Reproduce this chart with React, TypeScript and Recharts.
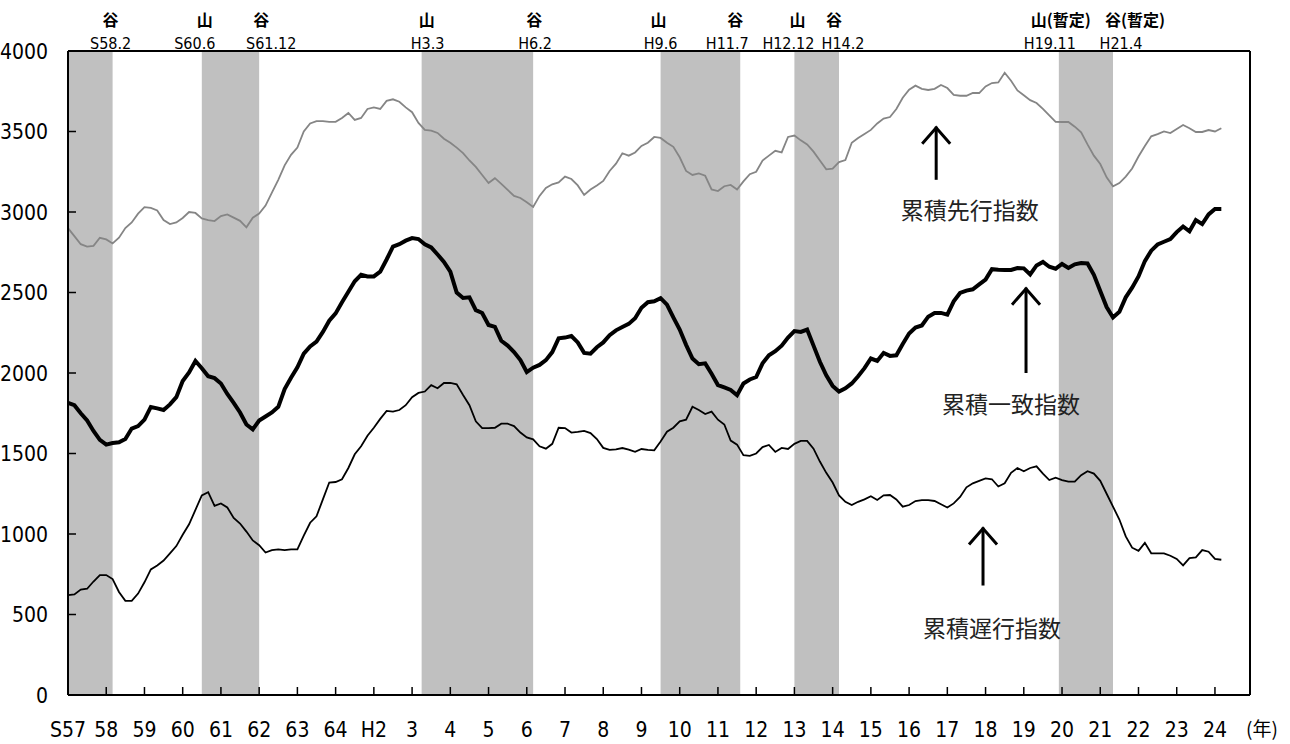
import React from "react";
import { ComposedChart, Line, XAxis, YAxis, ReferenceArea, ReferenceLine, ReferenceDot } from "recharts";

// months counted from S57.1 (Jan 1982), sampled every 2 months
const months = Array.from({ length: 182 }, (_, i) => i * 2);

const yearLabels = [
  "S57", "58", "59", "60", "61", "62", "63", "64", "H2", "3", "4", "5", "6", "7", "8", "9",
  "10", "11", "12", "13", "14", "15", "16", "17", "18", "19", "20", "21", "22", "23", "24",
];
const yearTicks = yearLabels.map((_, i) => i * 12);
const valueTicks = [0, 500, 1000, 1500, 2000, 2500, 3000, 3500, 4000];

// 累積先行指数
const leading = [
  2900, 2850, 2800, 2785, 2790, 2840,
  2830, 2805, 2840, 2900, 2935, 2990,
  3030, 3025, 3010, 2950, 2925, 2935,
  2963, 3000, 2994, 2960, 2950, 2944,
  2975, 2985, 2965, 2945, 2905, 2965,
  2990, 3040, 3120, 3200, 3290, 3355,
  3400, 3500, 3550, 3565, 3565, 3560,
  3560, 3584, 3615, 3572, 3584, 3640,
  3650, 3640, 3690, 3700, 3685, 3650,
  3620, 3553, 3510, 3505, 3491, 3455,
  3430, 3400, 3366, 3320, 3280, 3230,
  3180, 3210, 3175, 3137, 3100, 3087,
  3060, 3031, 3100, 3150, 3172, 3184,
  3220, 3205, 3165, 3106, 3140, 3165,
  3193, 3255, 3300, 3365, 3350, 3370,
  3410, 3430, 3466, 3460, 3430, 3405,
  3340, 3255, 3230, 3240, 3225, 3140,
  3130, 3160, 3168, 3140, 3190, 3235,
  3250, 3320, 3350, 3380, 3370, 3466,
  3475, 3445, 3420, 3375, 3320, 3265,
  3270, 3310, 3323, 3430, 3460, 3485,
  3510, 3550, 3580, 3590, 3640, 3710,
  3760, 3785, 3765, 3758, 3765, 3789,
  3770, 3727, 3722, 3722, 3739, 3739,
  3780, 3801, 3805, 3865, 3815, 3755,
  3725, 3695, 3677, 3640, 3600, 3560,
  3559, 3559, 3530, 3495, 3420, 3350,
  3298, 3215, 3160, 3180, 3220, 3270,
  3345, 3410, 3470, 3484, 3500, 3490,
  3515, 3540, 3520, 3497, 3497, 3509,
  3500, 3520,
];

// 累積一致指数
const coincident = [
  1815, 1800, 1750, 1705, 1640, 1585,
  1555, 1565, 1570, 1590, 1655, 1670,
  1710, 1789, 1780, 1770, 1805, 1850,
  1950, 2003, 2075, 2030, 1980, 1968,
  1935, 1870, 1815, 1755, 1680, 1650,
  1705, 1730, 1755, 1790, 1900, 1970,
  2035, 2120, 2165, 2195, 2255, 2325,
  2370, 2440, 2505, 2570, 2610, 2600,
  2600, 2630, 2705, 2785, 2800, 2822,
  2838, 2832, 2800, 2780, 2736, 2690,
  2630, 2500, 2466, 2470, 2390, 2373,
  2298, 2286, 2200, 2170, 2130, 2080,
  2006, 2033, 2050, 2080, 2130, 2215,
  2220, 2230, 2190, 2125, 2120, 2160,
  2190, 2235, 2265, 2286, 2305, 2340,
  2405, 2440, 2445, 2465, 2425, 2345,
  2270, 2175, 2090, 2055, 2060, 1995,
  1925, 1910, 1895, 1862, 1935, 1960,
  1975, 2060, 2110, 2135, 2170, 2220,
  2260, 2255, 2270, 2170, 2070, 1985,
  1920, 1885, 1905, 1935, 1980, 2030,
  2090, 2075, 2124, 2106, 2110, 2180,
  2245, 2282, 2295, 2350, 2373, 2373,
  2362, 2445, 2497, 2512, 2520, 2550,
  2580, 2645, 2642, 2640, 2640, 2652,
  2650, 2612, 2668, 2690, 2660, 2648,
  2677, 2652, 2675, 2683, 2680, 2610,
  2510, 2410, 2345, 2380, 2470, 2530,
  2600, 2695, 2760, 2798, 2815, 2832,
  2875, 2910, 2880, 2950, 2925, 2985,
  3019, 3019,
];

// 累積遅行指数
const lagging = [
  620, 625, 655, 660, 705, 745,
  745, 720, 640, 585, 585, 630,
  700, 780, 805, 835, 880, 925,
  995, 1060, 1150, 1240, 1260, 1175,
  1190, 1165, 1100, 1065, 1015, 960,
  930, 885, 900, 905, 900, 905,
  905, 990, 1070, 1110, 1215, 1320,
  1323, 1340, 1410, 1495, 1545, 1610,
  1660, 1715, 1765, 1760, 1770, 1800,
  1850, 1876, 1885, 1925, 1905, 1938,
  1938, 1930, 1863, 1800, 1700, 1658,
  1658, 1660, 1685, 1685, 1670, 1630,
  1600, 1588, 1545, 1530, 1560, 1660,
  1658, 1630, 1634, 1640, 1627, 1590,
  1535, 1522, 1525, 1534, 1524, 1510,
  1528, 1522, 1520, 1575, 1635, 1660,
  1700, 1710, 1790, 1770, 1745, 1760,
  1710, 1680, 1580, 1555, 1490, 1485,
  1500, 1540, 1553, 1510, 1535, 1528,
  1560, 1578, 1578, 1530, 1450, 1380,
  1320, 1240, 1200, 1180, 1200, 1215,
  1235, 1211, 1240, 1242, 1215, 1170,
  1180, 1205, 1210, 1210, 1205, 1185,
  1165, 1190, 1230, 1290, 1315, 1330,
  1345, 1340, 1295, 1315, 1380, 1410,
  1390, 1410, 1420, 1375, 1335, 1350,
  1335, 1325, 1325, 1365, 1390, 1375,
  1330, 1250, 1170, 1090, 985, 915,
  895, 945, 880, 880, 880, 865,
  845, 805, 850, 855, 900, 890,
  845, 840,
];

// 景気の山・谷 (month index of the turning month)
const turningPoints = [
  { kind: "谷", date: "S58.2", month: 13 },
  { kind: "山", date: "S60.6", month: 41 },
  { kind: "谷", date: "S61.12", month: 59 },
  { kind: "山", date: "H3.3", month: 110 },
  { kind: "谷", date: "H6.2", month: 145 },
  { kind: "山", date: "H9.6", month: 185 },
  { kind: "谷", date: "H11.7", month: 210 },
  { kind: "山", date: "H12.12", month: 227 },
  { kind: "谷", date: "H14.2", month: 241 },
  { kind: "山(暫定)", date: "H19.11", month: 310 },
  { kind: "谷(暫定)", date: "H21.4", month: 327 },
];
// horizontal nudges of the heading texts (kind, date)
const labelShift = [
  [-2, -2], [3, -7], [2, 12], [5, 6], [1, 2], [-2, 0],
  [-5, -13], [3, -6], [-5, 4], [2, -9], [22, 8],
];

const seriesNotes = [
  { text: "累積先行指数", month: 283, value: 3010, tipValue: 3530, baseValue: 3200, arrowMonth: 272.5 },
  { text: "累積一致指数", month: 296, value: 1800, tipValue: 2530, baseValue: 2000, arrowMonth: 300.7 },
  { text: "累積遅行指数", month: 290, value: 410, tipValue: 1040, baseValue: 680, arrowMonth: 287.2 },
];

const chartData = months.map((m, i) => ({ m, leading: leading[i], coincident: coincident[i], lagging: lagging[i] }));

const bands: { x1: number; x2: number }[] = [];
let open = 0;
turningPoints.forEach((tp) => {
  if (tp.kind.startsWith("山")) open = tp.month + 1;
  else bands.push({ x1: open, x2: tp.month + 1 });
});

const NARROW = "'Liberation Sans Narrow', 'Arial Narrow', 'DejaVu Sans Condensed', sans-serif";
const CJK = "'Noto Sans CJK JP', 'Noto Sans CJK SC', sans-serif";
const PLOT_LEFT = 68;
const PLOT_BOTTOM = 695;

const YTick = (props: any) => {
  const { y, payload } = props;
  return (
    <g>
      <line x1={PLOT_LEFT} x2={PLOT_LEFT + 8} y1={y} y2={y} stroke="#000" strokeWidth={1.5} />
      <text x={48} y={y} dy="0.36em" textAnchor="end" fontFamily={NARROW} fontSize={21} fill="#000">
        {payload.value}
      </text>
    </g>
  );
};

const XTick = (props: any) => {
  const { x, payload, index } = props;
  const last = index === yearLabels.length - 1;
  return (
    <g>
      <line x1={x} x2={x} y1={PLOT_BOTTOM} y2={PLOT_BOTTOM - 8} stroke="#000" strokeWidth={1.5} />
      <text x={x} y={737} textAnchor="middle" fontFamily={NARROW} fontSize={21} fill="#000">
        {yearLabels[payload.value / 12]}
      </text>
      {last && (
        <text x={x + 31} y={736} textAnchor="start" fontFamily={CJK} fontSize={19} fill="#000">
          (年)
        </text>
      )}
    </g>
  );
};

const App = () => {
  return (
    <div style={{ position: "absolute", left: 0, top: 0, background: "#fff" }}>
      <ComposedChart width={1290} height={744} data={chartData} margin={{ top: 51, right: 40, left: 0, bottom: 0 }}>
        {bands.map((b, i) => (
          <ReferenceArea key={`band${i}`} x1={b.x1} x2={b.x2} y1={0} y2={4000} fill="#c0c0c0" fillOpacity={1} stroke="none" />
        ))}
        <XAxis
          dataKey="m"
          type="number"
          domain={[0, 371]}
          ticks={yearTicks}
          interval={0}
          height={49}
          tickLine={false}
          axisLine={{ stroke: "#000", strokeWidth: 2 }}
          tick={<XTick />}
        />
        <YAxis
          type="number"
          domain={[0, 4000]}
          ticks={valueTicks}
          interval={0}
          width={68}
          tickLine={false}
          axisLine={{ stroke: "#000", strokeWidth: 2 }}
          tick={<YTick />}
        />
        <ReferenceLine y={4000} stroke="#000" strokeWidth={2} />
        <ReferenceLine x={371} stroke="#000" strokeWidth={2} />
        <Line type="linear" dataKey="leading" stroke="#858585" strokeWidth={1.8} dot={false} isAnimationActive={false} />
        <Line type="linear" dataKey="coincident" stroke="#000" strokeWidth={4} dot={false} isAnimationActive={false} />
        <Line type="linear" dataKey="lagging" stroke="#000" strokeWidth={1.8} dot={false} isAnimationActive={false} />
        {turningPoints.map((tp, i) => (
          <ReferenceDot
            key={`tp${i}`}
            x={tp.month + 1}
            y={4000}
            r={0}
            shape={(p: any) => (
              <g>
                <text x={p.cx + labelShift[i][0]} y={p.cy - 25} textAnchor="middle" fontFamily={CJK} fontWeight={700} fontSize={16} fill="#000">
                  {tp.kind}
                </text>
                <text x={p.cx + labelShift[i][1]} y={p.cy - 2} textAnchor="middle" fontFamily={NARROW} fontSize={16} fill="#000">
                  {tp.date}
                </text>
              </g>
            )}
          />
        ))}
        {seriesNotes.map((n, i) => (
          <ReferenceLine
            key={`shaft${i}`}
            segment={[
              { x: n.arrowMonth, y: n.baseValue },
              { x: n.arrowMonth, y: n.tipValue },
            ]}
            stroke="#000"
            strokeWidth={3}
          />
        ))}
        {seriesNotes.map((n, i) => (
          <ReferenceDot
            key={`tip${i}`}
            x={n.arrowMonth}
            y={n.tipValue}
            r={0}
            shape={(p: any) => (
              <path d={`M${p.cx - 14},${p.cy + 17} L${p.cx},${p.cy + 1} L${p.cx + 14},${p.cy + 17}`} fill="none" stroke="#000" strokeWidth={3} />
            )}
          />
        ))}
        {seriesNotes.map((n, i) => (
          <ReferenceDot
            key={`note${i}`}
            x={n.month}
            y={n.value}
            r={0}
            shape={(p: any) => (
              <text x={p.cx} y={p.cy} dy="0.36em" textAnchor="middle" fontFamily={CJK} fontSize={23} fill="#222">
                {n.text}
              </text>
            )}
          />
        ))}
      </ComposedChart>
    </div>
  );
};

export default App;
